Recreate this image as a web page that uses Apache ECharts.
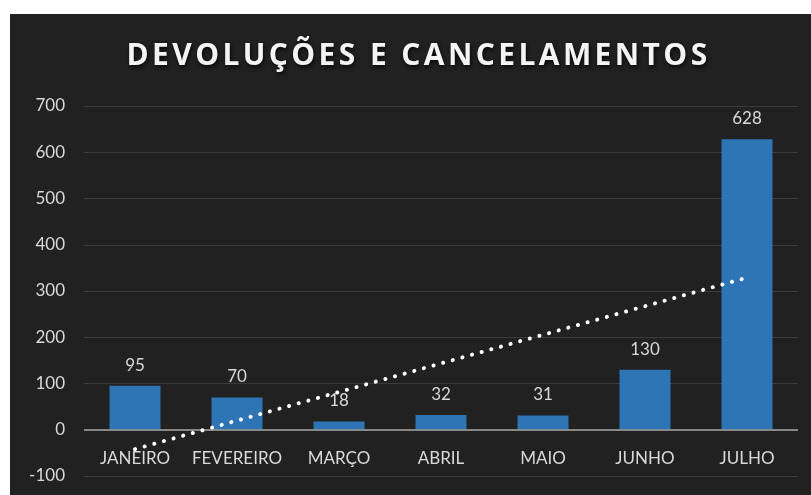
<!DOCTYPE html>
<html>
<head>
<meta charset="utf-8">
<script src="https://cdn.jsdelivr.net/npm/echarts@6/dist/echarts.min.js"></script>
<style>
	body { margin: 0; background: #ffffff; }
	#main { position: absolute; left: 10px; top: 14px; width: 801px; height: 481px; }
	#titulo {
		position: absolute; left: 18px; top: 34px; width: 801px;
		text-align: center; color: #f4f4f4;
		font-family: 'Open Sans'; font-weight: bold; font-size: 30px;
		letter-spacing: 3.4px; line-height: 40px;
		text-shadow: 1px 2px 4px rgba(0,0,0,0.8);
	}
</style>
</head>
<body>
<div id="main"></div>
<div id="titulo">DEVOLUÇÕES E CANCELAMENTOS</div>
<script>
	// meses
	var meses = ['JANEIRO', 'FEVEREIRO', 'MARÇO', 'ABRIL', 'MAIO', 'JUNHO', 'JULHO'];
	// devoluções e cancelamentos por mês
	var valores = [95, 70, 18, 32, 31, 130, 628];
	// linha de tendência (só os extremos)
	var tendencia = [-42, null, null, null, null, null, 329];
	var yTicks = [-100, 0, 100, 200, 300, 400, 500, 600, 700];

	var myChart = echarts.init(document.getElementById('main'));
	myChart.setOption({
		backgroundColor: '#212121',
		animation: false,
		grid: {
			left: 74,
			right: 13,
			top: 92,
			bottom: 19,
			outerBoundsMode: 'none'
		},
		xAxis: {
			type: 'category',
			data: meses,
			axisTick: { show: false },
			axisLine: { show: false, onZero: false },
			axisLabel: {
				interval: 0,
				color: '#d9d9d9',
				fontFamily: 'Lato',
				fontSize: 17,
				margin: -26
			}
		},
		yAxis: {
			type: 'value',
			min: yTicks[0],
			max: yTicks[yTicks.length - 1],
			interval: 100,
			axisLine: { show: false },
			axisTick: { show: false },
			axisLabel: {
				color: '#d9d9d9',
				fontFamily: 'Lato',
				fontSize: 17,
				margin: 19
			},
			splitLine: { lineStyle: { color: '#3b3b3b', width: 1 } }
		},
		series: [{
			name: 'valores',
			type: 'bar',
			data: valores,
			barWidth: '50%',
			itemStyle: { color: '#2e75b6' },
			label: {
				show: true,
				position: 'top',
				distance: 12,
				color: '#d9d9d9',
				fontFamily: 'Lato',
				fontSize: 17
			},
			markLine: {
				silent: true,
				symbol: 'none',
				label: { show: false },
				lineStyle: { color: 'rgba(150,150,150,0.85)', width: 2, type: 'solid' },
				data: [{ yAxis: 0 }]
			}
		}, {
			name: 'tendência',
			type: 'line',
			data: tendencia,
			connectNulls: true,
			symbol: 'none',
			lineStyle: {
				color: '#ffffff',
				width: 4,
				type: [0.1, 9.9],
				cap: 'round'
			},
			z: 10
		}]
	});
</script>
</body>
</html>
